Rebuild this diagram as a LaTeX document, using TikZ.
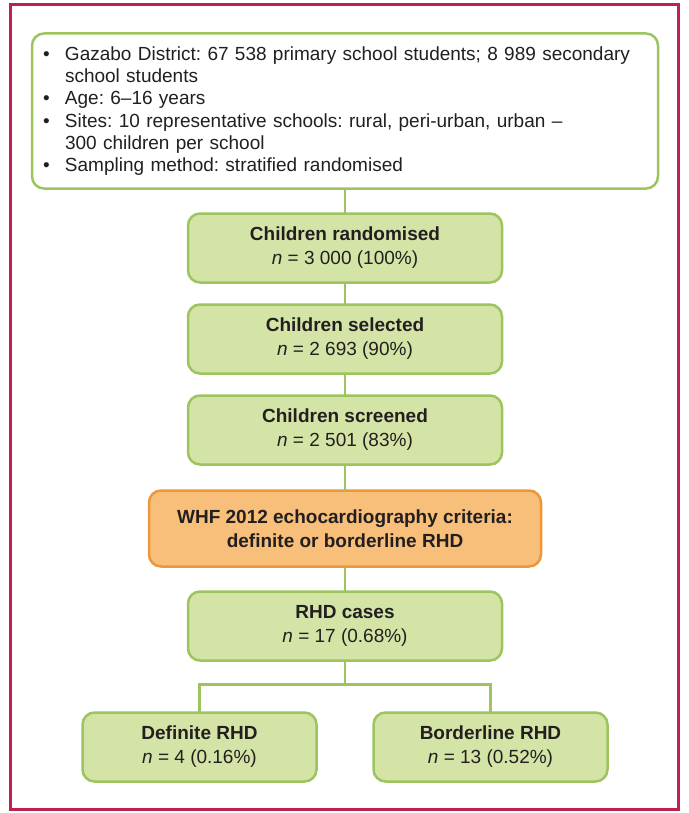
\documentclass[tikz,border=0pt]{standalone}
\usepackage{fontspec}
\setmainfont{Liberation Sans}
\usetikzlibrary{positioning}
\definecolor{leafgreen}{RGB}{157,196,95}
\definecolor{palegreen}{RGB}{211,228,166}
\definecolor{apricot}{RGB}{248,191,122}
\definecolor{tangerine}{RGB}{238,150,58}
\definecolor{framecrimson}{RGB}{190,32,82}
\definecolor{inkgrey}{RGB}{35,31,32}
\newcommand{\bulletitem}{\makebox[22pt][l]{\textbullet}}
\newcommand{\bulletcont}{\hspace*{22pt}}
\frenchspacing

\begin{document}
\begin{tikzpicture}[
  x=1pt, y=1pt,
  every node/.style={text=inkgrey, outer sep=0pt},
  listbox/.style={draw=leafgreen, line width=2.5pt, rounded corners=12pt, fill=white,
    text width=604pt, inner xsep=11pt, minimum height=155pt, align=left,
    font=\fontsize{19}{22.3}\selectfont},
  stage/.style={draw=leafgreen, line width=2.5pt, rounded corners=12pt, fill=palegreen,
    minimum width=314pt, minimum height=69pt, align=center,
    font=\fontsize{19}{24}\selectfont},
  criteria/.style={stage, draw=tangerine, fill=apricot, minimum width=392pt, minimum height=76pt},
  outcome/.style={stage, minimum width=234pt},
  link/.style={draw=leafgreen, line width=2.5pt}
]
  \useasboundingbox (0,0) rectangle (688,-813);
  \draw[framecrimson, line width=3pt] (10,-5) rectangle (678,-809);

  % Define nodes

  \node[listbox] (pop) at (345,-111) {%
    \bulletitem Gazabo District: 67 538 primary school students; 8 989 secondary\\
    \bulletcont school students\\
    \bulletitem Age: 6--16 years\\
    \bulletitem Sites: 10 representative schools: rural, peri-urban, urban --\\
    \bulletcont 300 children per school\\
    \bulletitem Sampling method: stratified randomised};
  \node[stage, below=25pt of pop] (randomised) {\textbf{Children randomised}\\\textit{n} = 3 000 (100\%)};
  \node[stage, below=22pt of randomised] (selected) {\textbf{Children selected}\\\textit{n} = 2 693 (90\%)};
  \node[stage, below=22pt of selected] (screened) {\textbf{Children screened}\\\textit{n} = 2 501 (83\%)};
  \node[criteria, below=26pt of screened] (whf) {\textbf{WHF 2012 echocardiography criteria:}\\\textbf{definite or borderline RHD}};
  \node[stage, below=25pt of whf] (cases) {\textbf{RHD cases}\\\textit{n} = 17 (0.68\%)};
  \node[outcome, below=52pt of cases, xshift=-145.5pt] (definite) {\textbf{Definite RHD}\\\textit{n} = 4 (0.16\%)};
  \node[outcome, below=52pt of cases, xshift=145.5pt] (borderline) {\textbf{Borderline RHD}\\\textit{n} = 13 (0.52\%)};
  \coordinate[below=24pt of cases] (split);

  % Connect the nodes
  \draw[link] (pop) -- (randomised);
  \draw[link] (randomised) -- (selected);
  \draw[link] (selected) -- (screened);
  \draw[link] (screened) -- (whf);
  \draw[link] (whf) -- (cases);
  \draw[link] (cases) -- (split) -| (definite);
  \draw[link] (split) -| (borderline);

\end{tikzpicture}
\end{document}
